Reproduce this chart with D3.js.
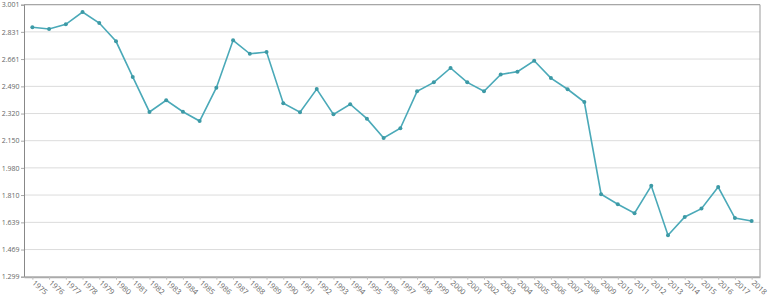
<!DOCTYPE html>
<html><head><meta charset="utf-8">
<script src="https://cdn.jsdelivr.net/npm/d3@7"></script>
<style>body{margin:0;background:#fff;} svg{display:block;}</style>
</head><body>
<svg id="c" width="768" height="304"></svg>
<script>
const years = [1975,1976,1977,1978,1979,1980,1981,1982,1983,1984,1985,1986,1987,1988,1989,1990,1991,1992,1993,1994,1995,1996,1997,1998,1999,2000,2001,2002,2003,2004,2005,2006,2007,2008,2009,2010,2011,2012,2013,2014,2015,2016,2017,2018];
const values = [2.860,2.849,2.878,2.955,2.886,2.772,2.549,2.330,2.403,2.331,2.273,2.482,2.778,2.694,2.705,2.384,2.328,2.473,2.315,2.378,2.288,2.167,2.228,2.459,2.515,2.605,2.515,2.459,2.565,2.582,2.650,2.542,2.472,2.392,1.815,1.752,1.696,1.868,1.558,1.673,1.725,1.860,1.666,1.648];
const yTicks = [1.299,1.469,1.639,1.810,1.980,2.150,2.320,2.490,2.661,2.831,3.001];

const svg = d3.select("#c");
const L = 24, R = 760, T = 4.7, B = 276.7;
const x = d3.scalePoint().domain(years).range([L, R]).padding(0.5);
const y = d3.scaleLinear().domain([1.299, 3.001]).range([B, T]);

// gridlines
svg.append("g").selectAll("line").data(yTicks.slice(1)).join("line")
  .attr("x1", L).attr("x2", R).attr("y1", d => y(d)).attr("y2", d => y(d))
  .attr("stroke", "#dcdcdc").attr("stroke-width", 1);

// frame top & right
svg.append("line").attr("x1", L).attr("x2", R).attr("y1", T).attr("y2", T).attr("stroke", "#999").attr("stroke-width", 1);
svg.append("line").attr("x1", R).attr("x2", R).attr("y1", T).attr("y2", B).attr("stroke", "#999").attr("stroke-width", 1);

// y axis
const yAxis = svg.append("g").attr("transform", `translate(${L},0)`)
  .call(d3.axisLeft(y).tickValues(yTicks).tickFormat(d => d.toFixed(3)).tickSize(3).tickPadding(1.5));
yAxis.select(".domain").attr("stroke", "#888");
yAxis.selectAll(".tick line").attr("stroke", "#aaa");
yAxis.selectAll("text").attr("fill", "#666").style("font-family", "Open Sans, sans-serif").style("font-size", "7px");

// x axis
const xAxis = svg.append("g").attr("transform", `translate(0,${B})`)
  .call(d3.axisBottom(x).tickSize(3).tickSizeOuter(0));
xAxis.select(".domain").attr("stroke", "#aaa").attr("stroke-width", 2);
xAxis.selectAll(".tick line").attr("stroke", "#bbb");
xAxis.selectAll("text").attr("fill", "#666").style("font-family", "Open Sans, sans-serif").style("font-size", "7.5px")
  .attr("text-anchor", "start").attr("dy", null).attr("y", 0)
  .attr("transform", "translate(-1,7) rotate(42)");

// line
const line = d3.line().x((d, i) => x(years[i])).y(d => y(d));
svg.append("path").datum(values).attr("d", line)
  .attr("fill", "none").attr("stroke", "#4aa9b8").attr("stroke-width", 1.6);
svg.append("g").selectAll("circle").data(values).join("circle")
  .attr("cx", (d, i) => x(years[i])).attr("cy", d => y(d)).attr("r", 2)
  .attr("fill", "#3d9aa6");
</script>
</body></html>
